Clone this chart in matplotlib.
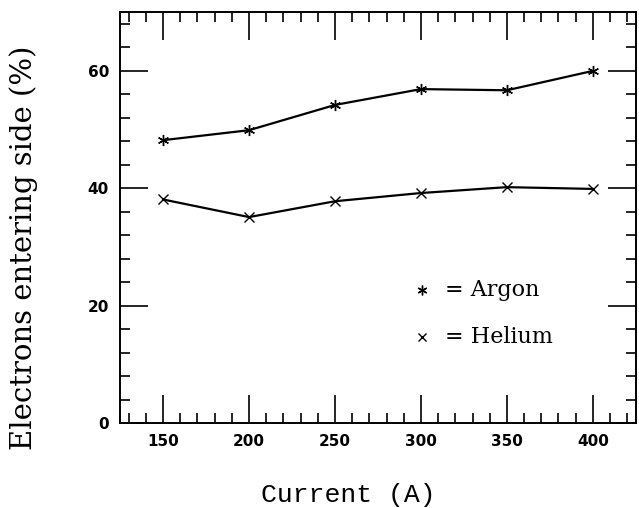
import matplotlib
matplotlib.use('Agg')
import matplotlib.pyplot as plt
from matplotlib.ticker import MultipleLocator

current = [150, 200, 250, 300, 350, 400]
argon = [48.2, 49.9, 54.2, 56.9, 56.7, 60.0]
helium = [38.1, 35.1, 37.8, 39.2, 40.2, 39.9]

fig = plt.figure(figsize=(6.39, 5.08), dpi=100)
ax = fig.add_axes([0.188, 0.167, 0.807, 0.809])

argon_marker = (6, 2, 0)
ax.plot(current, argon, color='black', lw=1.6, marker=argon_marker, ms=8, mew=1.0)
ax.plot(current, helium, color='black', lw=1.6, marker='x', ms=7, mew=1.0)

ax.set_xlim(125, 425)
ax.set_ylim(0, 70)
ax.xaxis.set_major_locator(MultipleLocator(50))
ax.xaxis.set_minor_locator(MultipleLocator(10))
ax.yaxis.set_major_locator(MultipleLocator(20))
ax.yaxis.set_minor_locator(MultipleLocator(4))
ax.tick_params(which='both', direction='in', top=True, right=True, width=1.2)
ax.tick_params(which='major', length=20, labelsize=11, pad=8)
ax.tick_params(which='minor', length=7)
for s in ax.spines.values():
    s.set_linewidth(1.4)
for lab in ax.get_xticklabels() + ax.get_yticklabels():
    lab.set_fontweight('bold')

ax.set_xlabel('Current (A)', family='Liberation Mono', fontsize=19)
ax.xaxis.set_label_coords(0.442, -0.175)
ax.xaxis.label.set_va('center')
ax.set_ylabel('Electrons entering side (%)', family='DejaVu Serif', fontsize=21)
ax.yaxis.set_label_coords(-0.188, 0.426)
ax.yaxis.label.set_va('center')

# legend drawn by hand
ax.plot([0.586], [0.324], transform=ax.transAxes, marker=argon_marker, ms=7, color='black', mew=1.0)
ax.plot([0.586], [0.209], transform=ax.transAxes, marker='x', ms=6, color='black', mew=1.0)
ax.text(0.63, 0.324, '= Argon', transform=ax.transAxes, family='DejaVu Serif', fontsize=16, va='center')
ax.text(0.63, 0.209, '= Helium', transform=ax.transAxes, family='DejaVu Serif', fontsize=16, va='center')

fig.savefig('out.png', dpi=100)
